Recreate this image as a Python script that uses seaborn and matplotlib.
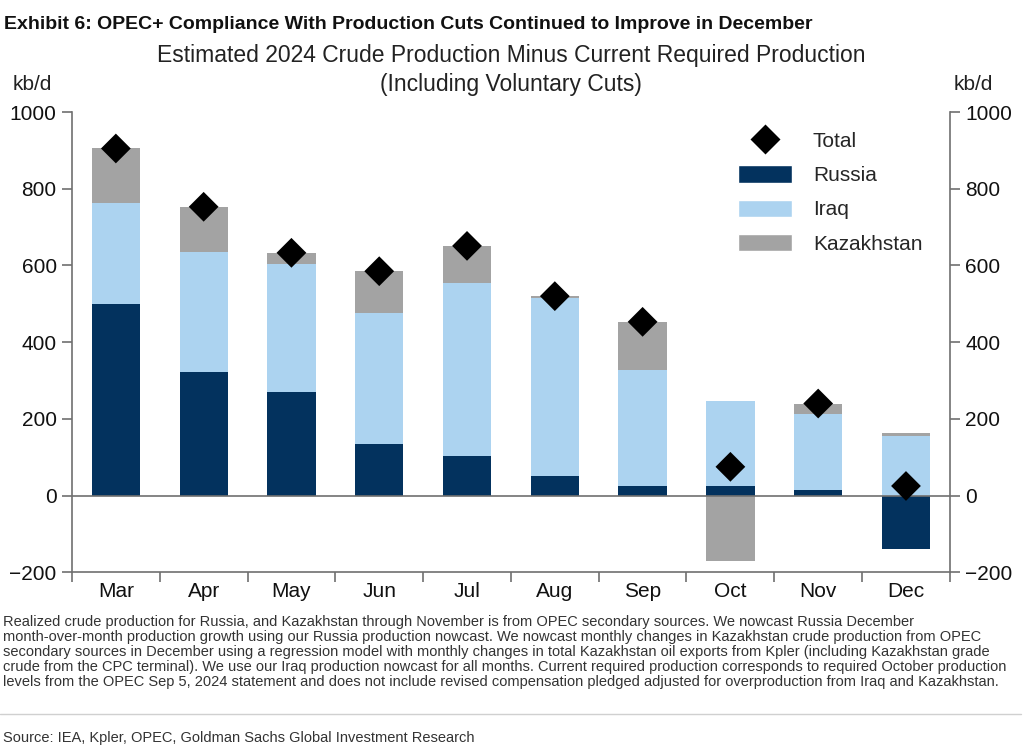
import numpy as np
import pandas as pd
import matplotlib.pyplot as plt
import seaborn as sns
from matplotlib.patches import Patch
from matplotlib.lines import Line2D

# data (kb/d)
months = ["Mar", "Apr", "May", "Jun", "Jul", "Aug", "Sep", "Oct", "Nov", "Dec"]
russia = [500, 323, 270, 135, 102, 50, 25, 25, 15, -140]
iraq = [262, 312, 335, 342, 452, 465, 303, 222, 197, 155]
kazakhstan = [143, 118, 28, 108, 97, 5, 125, -170, 28, 8]
total = [905, 753, 633, 585, 651, 520, 453, 75, 240, 25]

C_RUSSIA = "#03325e"
C_IRAQ = "#acd3f0"
C_KAZ = "#a3a3a3"

sns.set_theme(style="white")
plt.rcParams["font.family"] = ["Liberation Sans", "DejaVu Sans"]
NARROW = ["Liberation Sans Narrow", "Liberation Sans", "DejaVu Sans"]

fig = plt.figure(figsize=(10.28, 7.52), dpi=100)
ax = fig.add_axes([0.070, 0.239, 0.854, 0.612])

# stacked bars: positives stack up from 0, negatives stack down from 0
layers = [("Russia", russia, C_RUSSIA), ("Iraq", iraq, C_IRAQ), ("Kazakhstan", kazakhstan, C_KAZ)]
pos = np.zeros(len(months))
neg = np.zeros(len(months))
for name, vals, col in layers:
    v = np.array(vals, dtype=float)
    bottom = np.where(v >= 0, pos, neg)
    df = pd.DataFrame({"month": months, "val": v})
    sns.barplot(data=df, x="month", y="val", color=col, width=0.55,
                bottom=bottom, saturation=1, ax=ax, linewidth=0)
    pos = pos + np.clip(v, 0, None)
    neg = neg + np.clip(v, None, 0)

tot = pd.DataFrame({"month": months, "total": total})
sns.scatterplot(data=tot, x="month", y="total", marker="D", color="black",
                s=230, edgecolor="none", ax=ax, zorder=5, legend=False)

ax.axhline(0, color="#707070", lw=1.2, zorder=1)
ax.set_xlim(-0.5, len(months) - 0.5)
ax.set_ylim(-200, 1000)
ax.set_yticks(range(-200, 1001, 200))
ax.set_xlabel("")
ax.set_ylabel("")

ax.spines["top"].set_visible(False)
for s in ["left", "right", "bottom"]:
    ax.spines[s].set_color("#707070")
    ax.spines[s].set_linewidth(1.2)

ax.tick_params(axis="y", which="both", left=True, right=True, labelleft=True,
               labelright=True, direction="out", length=7, width=1.2,
               color="#707070", labelsize=15, pad=4)
# x ticks sit between categories
ax.set_xticks(np.arange(len(months)))
ax.set_xticklabels(months, fontsize=15)
ax.tick_params(axis="x", which="major", length=0, pad=7)
ax.set_xticks(np.arange(-0.5, len(months), 1.0), minor=True)
ax.tick_params(axis="x", which="minor", bottom=True, length=7, width=1.2,
               color="#707070", direction="out")
for lab in ax.get_yticklabels() + ax.get_xticklabels():
    lab.set_color("#111111")

handles = [
    Line2D([0], [0], marker="D", color="none", markerfacecolor="black",
           markeredgecolor="none", markersize=15, label="Total"),
    Patch(facecolor=C_RUSSIA, label="Russia"),
    Patch(facecolor=C_IRAQ, label="Iraq"),
    Patch(facecolor=C_KAZ, label="Kazakhstan"),
]
ax.legend(handles=handles, loc="upper right", bbox_to_anchor=(0.99, 1.0),
          frameon=False, fontsize=15, handlelength=2.6, handleheight=0.9,
          handletextpad=1.0, labelspacing=0.7)

# titles and labels
fig.text(0.004, 0.968, "Exhibit 6: OPEC+ Compliance With Production Cuts Continued to Improve in December",
         fontsize=14, fontweight="bold", family=NARROW, va="center", ha="left", color="#111111")
fig.text(0.497, 0.926, "Estimated 2024 Crude Production Minus Current Required Production",
         fontsize=16.5, ha="center", va="center", color="#222222")
fig.text(0.497, 0.887, "(Including Voluntary Cuts)", fontsize=16.5, ha="center", va="center", color="#222222")
fig.text(0.012, 0.888, "kb/d", fontsize=15, ha="left", va="center", color="#222222")
fig.text(0.928, 0.888, "kb/d", fontsize=15, ha="left", va="center", color="#222222")

notes = ("Realized crude production for Russia, and Kazakhstan through November is from OPEC secondary sources. We nowcast Russia December\n"
         "month-over-month production growth using our Russia production nowcast. We nowcast monthly changes in Kazakhstan crude production from OPEC\n"
         "secondary sources in December using a regression model with monthly changes in total Kazakhstan oil exports from Kpler (including Kazakhstan grade\n"
         "crude from the CPC terminal). We use our Iraq production nowcast for all months. Current required production corresponds to required October production\n"
         "levels from the OPEC Sep 5, 2024 statement and does not include revised compensation pledged adjusted for overproduction from Iraq and Kazakhstan.")
fig.text(0.003, 0.182, notes, fontsize=10.5, family=NARROW, ha="left", va="top",
         linespacing=1.08, color="#333333")
fig.add_artist(Line2D([0.0, 0.993], [0.050, 0.050], color="#d0d0d0", lw=1,
                      transform=fig.transFigure))
fig.text(0.003, 0.018, "Source: IEA, Kpler, OPEC, Goldman Sachs Global Investment Research",
         fontsize=10.5, family=NARROW, ha="left", va="center", color="#333333")

fig.savefig("out.png", dpi=100, facecolor="white")
